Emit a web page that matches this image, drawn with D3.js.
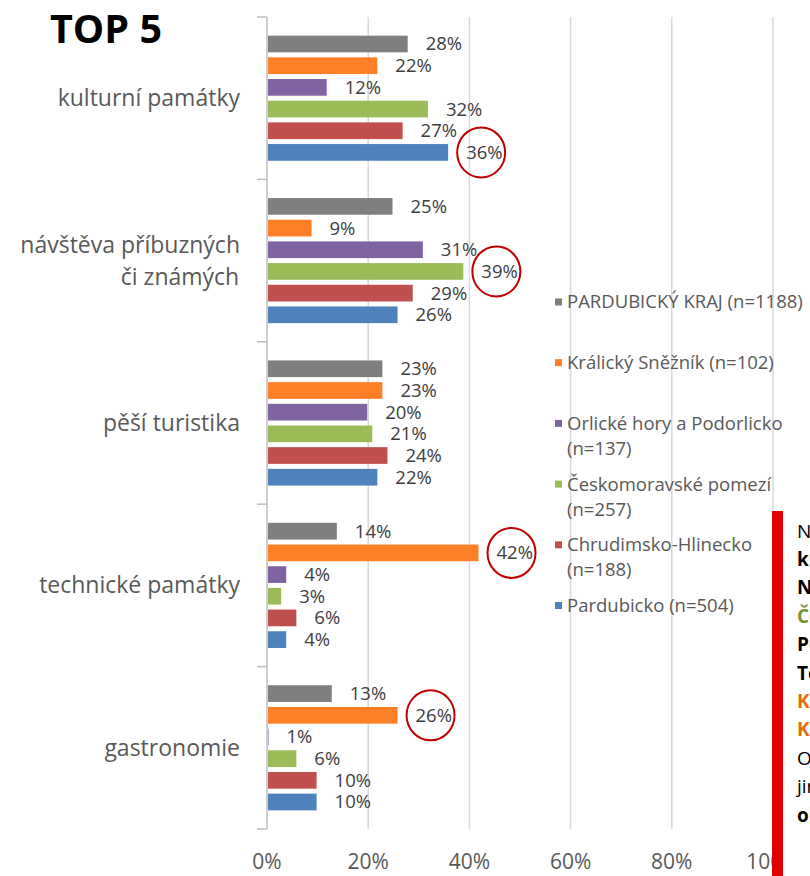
<!DOCTYPE html>
<html>
<head>
<meta charset="utf-8">
<script src="https://cdn.jsdelivr.net/npm/d3@7"></script>
<style>
  body { margin: 0; background: #fff; }
  svg { display: block; font-family: "Open Sans", sans-serif; }
</style>
</head>
<body>
<div id="chart"></div>
<script>
// categories (top to bottom) and series (legend order)
const categories = ["kulturní památky", "návštěva příbuzných či známých", "pěší turistika", "technické památky", "gastronomie"];
const seriesNames = ["PARDUBICKÝ KRAJ (n=1188)", "Králický Sněžník (n=102)", "Orlické hory a Podorlicko (n=137)",
  "Českomoravské pomezí (n=257)", "Chrudimsko-Hlinecko (n=188)", "Pardubicko (n=504)"];
const seriesColors = ["#7f7f7f", "#ff7f27", "#8064a2", "#9bbb59", "#c0504d", "#4f81bd"];

// values in % per series, same order as categories
const krajValues = [28, 25, 23, 14, 13];
const kralickyValues = [22, 9, 23, 42, 26];
const orlickeValues = [12, 31, 20, 4, 0.5];
const ceskomorValues = [32, 39, 21, 3, 6];
const chrudimValues = [27, 29, 24, 6, 10];
const pardubickoValues = [36, 26, 22, 4, 10];
const allValues = [krajValues, kralickyValues, orlickeValues, ceskomorValues, chrudimValues, pardubickoValues];

// circled labels: [category index, series index]
const highlights = [[0, 5], [1, 3], [3, 1], [4, 1]];

const xTicks = [0, 20, 40, 60, 80, 100];

// side note (cut off by the page edge)
const noteLines = [
  {t: "Nejčastěji", c: "#000", b: false},
  {t: "kulturní památky", c: "#000", b: true},
  {t: "Návštěva příbuzných", c: "#000", b: true},
  {t: "Českomoravské pomezí", c: "#77933c", b: true},
  {t: "Pěší turistika", c: "#000", b: true},
  {t: "Technické památky", c: "#000", b: true},
  {t: "Králický Sněžník", c: "#e46c0a", b: true},
  {t: "Králický Sněžník", c: "#e46c0a", b: true},
  {t: "Oproti", c: "#000", b: false},
  {t: "jiným", c: "#000", b: false},
  {t: "oblastem", c: "#000", b: true}
];

const W = 810, H = 876;
const svg = d3.select("#chart").append("svg")
  .attr("width", W).attr("height", H);

const x = d3.scaleLinear().domain([0, 100]).range([267, 773]);
const y0 = d3.scaleBand().domain(categories).range([17, 829]);
const y1 = d3.scaleBand().domain(d3.range(seriesNames.length))
  .range([0, y0.bandwidth()]).paddingInner(0.23).paddingOuter(0.86);

// gridlines
svg.append("g").selectAll("line")
  .data(xTicks.slice(1))
  .join("line")
    .attr("x1", d => x(d)).attr("x2", d => x(d))
    .attr("y1", y0.range()[0]).attr("y2", y0.range()[1])
    .style("stroke", "#d9d9d9")
    .style("stroke-width", 1.5);

// vertical axis with category ticks
const axisG = svg.append("g");
axisG.append("line")
  .attr("x1", x(0)).attr("x2", x(0))
  .attr("y1", y0.range()[0]).attr("y2", y0.range()[1])
  .style("stroke", "#bfbfbf").style("stroke-width", 1.5);
axisG.selectAll(".tick")
  .data(categories.map(c => y0(c)).concat([y0.range()[1]]))
  .join("line")
    .attr("x1", x(0) - 10).attr("x2", x(0))
    .attr("y1", d => d).attr("y2", d => d)
    .style("stroke", "#bfbfbf").style("stroke-width", 1.5);

// x tick labels
svg.append("g").selectAll("text")
  .data(xTicks)
  .join("text")
    .attr("x", d => x(d))
    .attr("y", 869)
    .attr("text-anchor", "middle")
    .style("font-size", "21px")
    .style("fill", "#595959")
    .text(d => d + "%");

// bars + labels
const rows = [];
categories.forEach((c, ci) => {
  allValues.forEach((vals, si) => rows.push({cat: c, ci, si, v: vals[ci]}));
});

const bars = svg.append("g");
bars.selectAll("rect")
  .data(rows)
  .join("rect")
    .attr("x", x(0) + 1)
    .attr("y", d => y0(d.cat) + y1(d.si))
    .attr("width", d => Math.max(0, x(d.v) - x(0) - 2))
    .attr("height", y1.bandwidth())
    .style("fill", d => seriesColors[d.si]);

bars.selectAll("text")
  .data(rows)
  .join("text")
    .attr("x", d => x(d.v) + 17)
    .attr("y", d => y0(d.cat) + y1(d.si) + y1.bandwidth() / 2)
    .attr("dy", "0.35em")
    .style("font-size", "18.5px")
    .style("fill", "#404040")
    .text(d => Math.round(d.v) + "%");

// red circles around highlighted labels
svg.append("g").selectAll("ellipse")
  .data(highlights)
  .join("ellipse")
    .attr("cx", d => x(allValues[d[1]][d[0]]) + 17 + 15)
    .attr("cy", d => y0(categories[d[0]]) + y1(d[1]) + y1.bandwidth() / 2)
    .attr("rx", 24).attr("ry", 25)
    .style("fill", "none")
    .style("stroke", "#c00000")
    .style("stroke-width", 2);

// category labels, wrapped and centred on 180, clamped to the axis
function wrapWords(text, maxW, size) {
  const tmp = svg.append("text").style("font-size", size);
  const words = text.split(" ");
  const lines = [];
  let line = [];
  words.forEach(w => {
    line.push(w);
    tmp.text(line.join(" "));
    if (tmp.node().getComputedTextLength() > maxW && line.length > 1) {
      line.pop();
      lines.push(line.join(" "));
      line = [w];
    }
  });
  lines.push(line.join(" "));
  tmp.remove();
  return lines;
}

const catG = svg.append("g");
categories.forEach(c => {
  const lines = wrapWords(c, 232, "23px");
  const cy = y0(c) + y0.bandwidth() / 2;
  const lh = 32;
  lines.forEach((l, i) => {
    const t = catG.append("text")
      .attr("y", cy + (i - (lines.length - 1) / 2) * lh)
      .attr("dy", "0.35em")
      .attr("text-anchor", "end")
      .style("font-size", "23px")
      .style("fill", "#595959")
      .text(l);
    const w = t.node().getComputedTextLength();
    t.attr("x", Math.min(180 + w / 2, 240));
  });
});

// legend
const legend = svg.append("g");
seriesNames.forEach((s, i) => {
  const ly = 302 + i * 60.7;
  legend.append("rect")
    .attr("x", 555).attr("y", ly - 3.5)
    .attr("width", 7).attr("height", 7)
    .style("fill", seriesColors[i]);
  const lines = wrapWords(s, 250, "18.5px");
  lines.forEach((l, j) => {
    legend.append("text")
      .attr("x", 567)
      .attr("y", ly + j * 25)
      .attr("dy", "0.35em")
      .style("font-size", "18.5px")
      .style("fill", "#595959")
      .text(l);
  });
});

// title
svg.append("text")
  .attr("x", 50).attr("y", 43)
  .style("font-size", "39.5px")
  .style("font-weight", "bold")
  .style("fill", "#000")
  .text("TOP 5");

// side note with red bar on white box
svg.append("rect")
  .attr("x", 783).attr("y", 511)
  .attr("width", W - 783).attr("height", H - 511)
  .style("fill", "#fff");
svg.append("rect")
  .attr("x", 772).attr("y", 511)
  .attr("width", 11).attr("height", H - 511)
  .style("fill", "#e00000");
svg.append("g").selectAll("text")
  .data(noteLines)
  .join("text")
    .attr("x", 797)
    .attr("y", (d, i) => 531 + i * 28.4)
    .attr("dy", "0.35em")
    .style("font-size", "19px")
    .style("font-weight", d => d.b ? "bold" : "normal")
    .style("fill", d => d.c)
    .text(d => d.t);
</script>
</body>
</html>
